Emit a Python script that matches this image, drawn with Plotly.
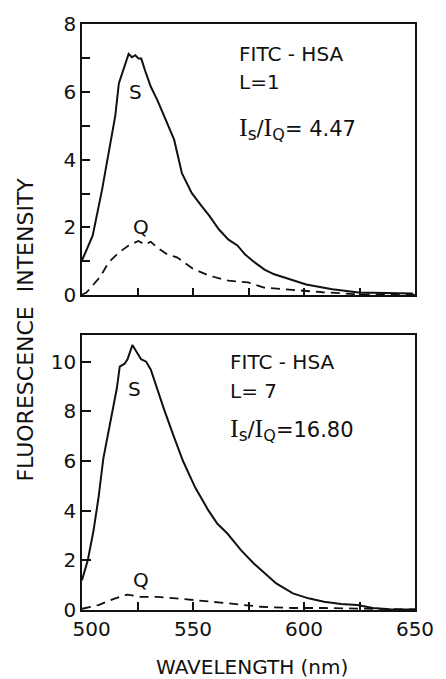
import plotly.graph_objects as go

# ---- data ----
# Top panel (L=1)
wl_s1 = [500, 502, 504.8, 509, 512, 515, 516.6, 519.7, 521, 522.5, 524, 525.5, 526.7, 528.4, 531, 534,
         537, 541.5, 545, 549.4, 553.8, 557.3, 561.7, 566, 570, 573.5, 577.8, 582.2, 586.6, 594, 601,
         608.4, 612.8, 624.6, 635, 649]
s1 = [1.03, 1.35, 1.76, 3.1, 4.2, 5.3, 6.25, 6.9, 7.12, 7.02, 7.08, 6.98, 6.98, 6.63, 6.15, 5.75,
      5.28, 4.59, 3.6, 3.02, 2.64, 2.35, 1.94, 1.64, 1.47, 1.2, 0.97, 0.76, 0.62, 0.47, 0.32,
      0.23, 0.18, 0.08, 0.06, 0.05]
wl_q1 = [500, 502, 508, 512, 516.6, 521, 525.4, 528.4, 531, 534, 538.5, 542.8, 550.3, 557.3, 566,
         574.8, 582, 591, 599.7, 608.4, 625, 650]
q1 = [0.02, 0.08, 0.53, 0.97, 1.26, 1.47, 1.6, 1.5, 1.58, 1.4, 1.2, 1.12, 0.77, 0.58, 0.43,
      0.38, 0.23, 0.18, 0.14, 0.09, 0.03, 0.02]

# Bottom panel (L=7)
wl_s7 = [500, 502.6, 505.2, 507.4, 509.6, 511.4, 513.6, 515.7, 517, 519.2, 520.5, 522.7, 526.6, 528.9,
         531, 533.7, 537, 541, 545.5, 551, 557, 561, 565.6, 571.7, 577.4, 587.5, 595, 602, 609, 616.7,
         624, 631, 638.6, 650]
s7 = [1.2, 2.0, 3.2, 4.5, 6.1, 6.9, 7.87, 8.93, 9.8, 9.92, 10.1, 10.67, 10.1, 10.0,
      9.68, 8.93, 8.07, 7.07, 6.0, 4.93, 4.0, 3.47, 3.07, 2.4, 1.87, 1.07, 0.67, 0.47, 0.33, 0.24,
      0.2, 0.08, 0.03, 0.02]
wl_q7 = [500, 507.4, 515, 520.5, 526, 533.7, 542.4, 551, 565.6, 580.5, 595, 609, 624, 650]
q7 = [0.05, 0.2, 0.47, 0.62, 0.53, 0.53, 0.47, 0.4, 0.27, 0.13, 0.08, 0.08, 0.05, 0.02]

y1_ticks = [0, 2, 4, 6, 8]
y2_ticks = [0, 2, 4, 6, 8, 10]
x_ticks = [500, 550, 600, 650]
x_ticktext = ["\u00a0\u00a0\u00a0500", "550", "600", "650"]

INK = "#111111"
FONT = "DejaVu Sans"

fig = go.Figure()
fig.add_trace(go.Scatter(x=wl_s1, y=s1, mode="lines", line=dict(color=INK, width=2), xaxis="x", yaxis="y"))
fig.add_trace(go.Scatter(x=wl_q1, y=q1, mode="lines", line=dict(color=INK, width=1.8, dash="9px,6px"),
                         xaxis="x", yaxis="y"))
fig.add_trace(go.Scatter(x=wl_s7, y=s7, mode="lines", line=dict(color=INK, width=2), xaxis="x2", yaxis="y2"))
fig.add_trace(go.Scatter(x=wl_q7, y=q7, mode="lines", line=dict(color=INK, width=1.8, dash="9px,6px"),
                         xaxis="x2", yaxis="y2"))

axis_common = dict(showline=True, linecolor=INK, linewidth=1.6, mirror=True, showgrid=False,
                   zeroline=False, ticks="inside", tickcolor=INK, tickwidth=1.5,
                   tickfont=dict(family=FONT, size=20, color=INK))

fig.update_layout(
    width=446, height=679,
    margin=dict(l=82, r=21, t=20, b=69),
    paper_bgcolor="white", plot_bgcolor="white",
    showlegend=False,
    xaxis=dict(axis_common, domain=[0, 1], range=[500, 650], anchor="y",
               tickvals=[500, 525, 550, 575, 600, 625, 650], showticklabels=False, ticklen=8),
    yaxis=dict(axis_common, domain=[0.537, 1], range=[0, 8], anchor="x",
               tickvals=y1_ticks, ticklen=8,
               minor=dict(ticks="inside", dtick=1, ticklen=8, tickcolor=INK, tickwidth=1.5)),
    xaxis2=dict(axis_common, domain=[0, 1], range=[500, 650], anchor="y2",
                tickvals=x_ticks, ticktext=x_ticktext, ticklen=8,
                minor=dict(ticks="inside", dtick=25, ticklen=8, tickcolor=INK, tickwidth=1.5)),
    yaxis2=dict(axis_common, domain=[0, 0.4695], range=[0, 11.08], anchor="x2",
                tickvals=y2_ticks, ticklen=9),
)

SERIF_I = "<span style='font-family:Liberation Serif;font-size:26px'>I</span>"
SUB_S = "<sub><span style='font-size:17px'>s</span></sub>"
SUB_Q = "<sub><span style='font-size:16px'>Q</span></sub>"
ratio_1 = f"{SERIF_I}{SUB_S}/{SERIF_I}{SUB_Q}= 4.47"
ratio_7 = f"{SERIF_I}{SUB_S}/{SERIF_I}{SUB_Q}=16.80"
ann_font = dict(family=FONT, size=20, color=INK)
ratio_font = dict(family=FONT, size=21, color=INK)
anns = [
    dict(x=570, y=7.13, xref="x", yref="y", text="FITC - HSA", xanchor="left"),
    dict(x=570, y=6.3, xref="x", yref="y", text="L=1", xanchor="left"),
    dict(x=570, y=4.93, xref="x", yref="y", text=ratio_1, xanchor="left", font=ratio_font),
    dict(x=524, y=6.0, xref="x", yref="y", text="S", xanchor="center"),
    dict(x=526.7, y=2.0, xref="x", yref="y", text="Q", xanchor="center"),
    dict(x=565.6, y=10.0, xref="x2", yref="y2", text="FITC - HSA", xanchor="left"),
    dict(x=565.6, y=8.8, xref="x2", yref="y2", text="L= 7", xanchor="left"),
    dict(x=565.6, y=7.28, xref="x2", yref="y2", text=ratio_7, xanchor="left", font=ratio_font),
    dict(x=523.6, y=8.92, xref="x2", yref="y2", text="S", xanchor="center"),
    dict(x=526.7, y=1.2, xref="x2", yref="y2", text="Q", xanchor="center"),
    dict(x=0.51, y=-0.097, xref="paper", yref="paper", text="WAVELENGTH (nm)", xanchor="center",
         yanchor="middle"),
    dict(x=-0.169, y=0.478, xref="paper", yref="paper", text="FLUORESCENCE  INTENSITY", textangle=-90,
         xanchor="center", yanchor="middle", font=dict(family=FONT, size=22, color=INK)),
]
for a in anns:
    a.setdefault("yanchor", "middle")
    a["showarrow"] = False
    a.setdefault("font", ann_font)
fig.update_layout(annotations=anns)

fig.write_html("out.html")
